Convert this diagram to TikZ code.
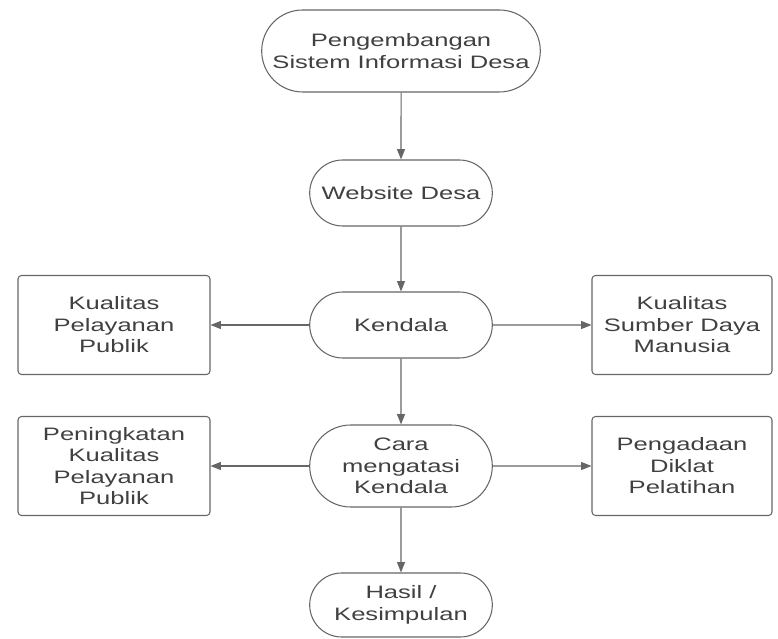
\documentclass[tikz,border=0pt]{standalone}
\usepackage{fontspec}
\setmainfont[FakeStretch=1.42]{Liberation Sans}
\usetikzlibrary{positioning, shapes.misc, arrows.meta}

\definecolor{inkgray}{HTML}{404040}
\definecolor{linegray}{HTML}{666666}

\tikzset{
  pill/.style={rounded rectangle, draw=linegray, line width=0.75pt, text=inkgray,
    minimum width=4.8cm, minimum height=1.65cm, align=center},
  sidebox/.style={rectangle, rounded corners=2.5pt, draw=linegray, line width=0.75pt,
    text=inkgray, minimum height=2.475cm, align=center},
  flow/.style={draw=linegray, line width=0.75pt, -{Triangle[length=2.6mm,width=2mm]}}
}

\begin{document}
\begin{tikzpicture}[font=\fontsize{12.8}{15.3}\selectfont]
        \useasboundingbox (0,0) rectangle (19.45,-15.975);

        \node (sid) [pill, minimum width=7.2cm, minimum height=2.05cm] at (10.025,-1.275) {Pengembangan\\Sistem Informasi Desa};
        \node (web) [pill, below of=sid, node distance=3.55cm] {Website Desa};
        \node (kendala) [pill, below of=web, node distance=3.3cm] {Kendala};
        \node (cara) [pill, below of=kendala, node distance=3.525cm, minimum height=2.05cm] {Cara\\mengatasi\\Kendala};
        \node (hasil) [pill, below of=cara, node distance=3.475cm, minimum height=1.6cm] {Hasil /\\Kesimpulan};

        \node (kpp) [sidebox, left of=kendala, node distance=7.175cm, minimum width=4.8cm] {Kualitas\\Pelayanan\\Publik};
        \node (ksdm) [sidebox, right of=kendala, node distance=7.025cm, minimum width=4.5cm] {Kualitas\\Sumber Daya\\Manusia};
        \node (pkpp) [sidebox, left of=cara, node distance=7.175cm, minimum width=4.8cm] {Peningkatan\\Kualitas\\Pelayanan\\Publik};
        \node (pdp) [sidebox, right of=cara, node distance=7.025cm, minimum width=4.5cm] {Pengadaan\\Diklat\\Pelatihan};

        \draw[flow] (sid) -- (web);
        \draw[flow] (web) -- (kendala);
        \draw[flow] (kendala) -- (cara);
        \draw[flow] (cara) -- (hasil);
        \draw[flow] (kendala) -- (kpp);
        \draw[flow] (kendala) -- (ksdm);
        \draw[flow] (cara) -- (pkpp);
        \draw[flow] (cara) -- (pdp);

        \end{tikzpicture}
\end{document}
